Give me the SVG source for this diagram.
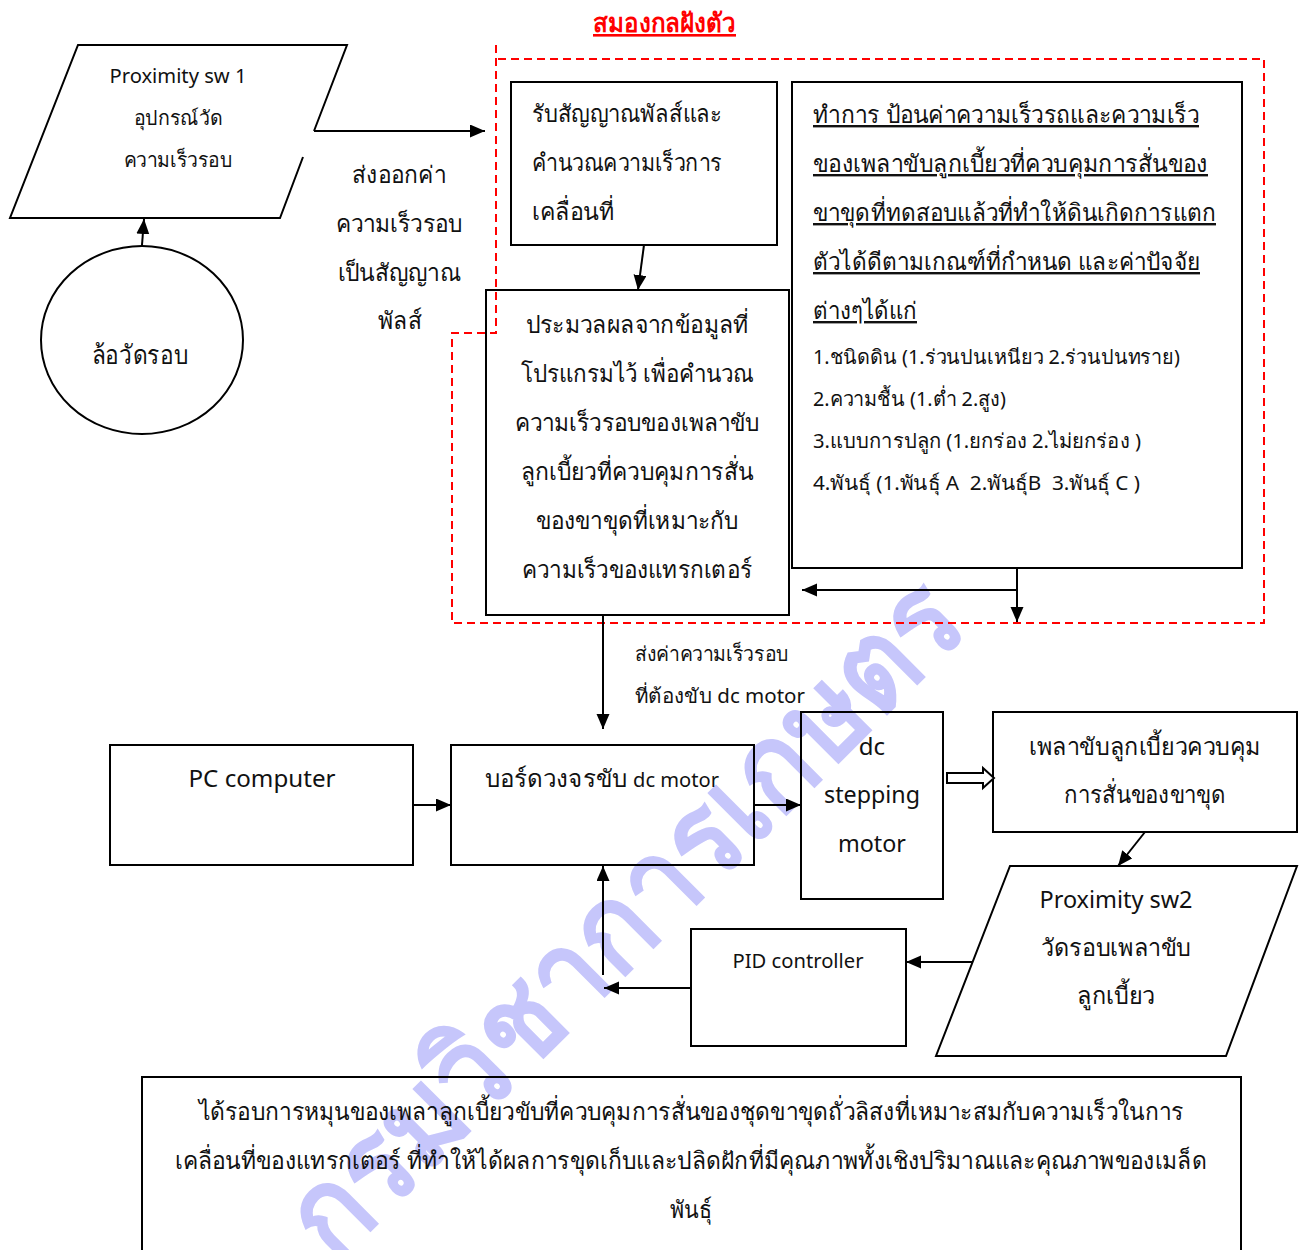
<svg xmlns="http://www.w3.org/2000/svg" width="1306" height="1250" viewBox="0 0 1306 1250">
<defs>
<style>
.t{font-family:'Noto Sans','Open Sans','DejaVu Sans',sans-serif;fill:#111;}
.s20{font-size:20px;}
.s24{font-size:24px;}
.box{fill:none;stroke:#000;stroke-width:2;}
.conn{fill:none;stroke:#000;stroke-width:2;}
.red{fill:none;stroke:#ff0000;stroke-width:2;stroke-dasharray:8 5;}
.ul{text-decoration:underline;}
</style>
<marker id="ah" markerUnits="userSpaceOnUse" markerWidth="16" markerHeight="14" refX="15" refY="6.5" orient="auto">
<path d="M0,0 L15,6.5 L0,13 Z" fill="#000"/>
</marker>
</defs>
<rect width="1306" height="1250" fill="#fff"/>
<g id="watermark">
<text x="335" y="1265" transform="rotate(-45 335 1265)" font-family="'Noto Sans','DejaVu Sans',sans-serif" font-size="122" font-weight="bold" fill="#c6c6fb" textLength="900" lengthAdjust="spacingAndGlyphs">กรมวิชาการเกษตร</text>
</g>
<g id="title">
<text class="t" x="593" y="32" font-size="26" font-weight="bold" style="fill:#ff0000" text-decoration="underline" textLength="143" lengthAdjust="spacingAndGlyphs">สมองกลฝังตัว</text>
</g>
<g id="embedded-boundary">
<path class="red" d="M496,45 L496,333 L452,333 L452,623 L1264,623 L1264,59 L496,59"/>
</g>
<g id="proximity1">
<path class="box" d="M314,131 L347,45 L78,45 L10,218 L280,218 L303,157"/>
<text class="t s20" x="178" y="83" text-anchor="middle" textLength="137" lengthAdjust="spacingAndGlyphs">Proximity sw 1</text>
<text class="t s20" x="178" y="125" text-anchor="middle" textLength="89" lengthAdjust="spacingAndGlyphs">อุปกรณ์วัด</text>
<text class="t s20" x="178" y="167" text-anchor="middle" textLength="109" lengthAdjust="spacingAndGlyphs">ความเร็วรอบ</text>
</g>
<g id="wheel">
<ellipse class="box" cx="142" cy="340" rx="101" ry="94"/>
<text class="t" x="140" y="364" font-size="26" text-anchor="middle" textLength="97" lengthAdjust="spacingAndGlyphs">ล้อวัดรอบ</text>
</g>
<g id="label-pulse">
<text class="t s24" x="399" y="183" text-anchor="middle" textLength="94" lengthAdjust="spacingAndGlyphs">ส่งออกค่า</text>
<text class="t s24" x="399" y="232" text-anchor="middle" textLength="127" lengthAdjust="spacingAndGlyphs">ความเร็วรอบ</text>
<text class="t s24" x="399" y="281" text-anchor="middle" textLength="123" lengthAdjust="spacingAndGlyphs">เป็นสัญญาณ</text>
<text class="t s24" x="400" y="329" text-anchor="middle" textLength="44" lengthAdjust="spacingAndGlyphs">พัลส์</text>
</g>
<g id="box-receive">
<rect class="box" x="511" y="82" width="266" height="163"/>
<text class="t s24" x="532" y="122" textLength="190" lengthAdjust="spacingAndGlyphs">รับสัญญาณพัลส์และ</text>
<text class="t s24" x="532" y="171" textLength="190" lengthAdjust="spacingAndGlyphs">คำนวณความเร็วการ</text>
<text class="t s24" x="532" y="220" textLength="82" lengthAdjust="spacingAndGlyphs">เคลื่อนที่</text>
</g>
<g id="box-input">
<rect class="box" x="792" y="82" width="450" height="486"/>
<text class="t s24 ul" x="813" y="123" textLength="386" lengthAdjust="spacingAndGlyphs">ทำการ ป้อนค่าความเร็วรถและความเร็ว</text>
<text class="t s24 ul" x="813" y="172" textLength="395" lengthAdjust="spacingAndGlyphs">ของเพลาขับลูกเบี้ยวที่ควบคุมการสั่นของ</text>
<text class="t s24 ul" x="813" y="221" textLength="403" lengthAdjust="spacingAndGlyphs">ขาขุดที่ทดสอบแล้วที่ทำให้ดินเกิดการแตก</text>
<text class="t s24 ul" x="813" y="270" textLength="387" lengthAdjust="spacingAndGlyphs">ตัวได้ดีตามเกณฑ์ที่กำหนด และค่าปัจจัย</text>
<text class="t s24 ul" x="813" y="319" textLength="104" lengthAdjust="spacingAndGlyphs">ต่างๆได้แก่</text>
<text class="t s20" x="813" y="364" textLength="367" lengthAdjust="spacingAndGlyphs">1.ชนิดดิน (1.ร่วนปนเหนียว 2.ร่วนปนทราย)</text>
<text class="t s20" x="813" y="406" textLength="193" lengthAdjust="spacingAndGlyphs">2.ความชื้น (1.ต่ำ 2.สูง)</text>
<text class="t s20" x="813" y="448" textLength="328" lengthAdjust="spacingAndGlyphs">3.แบบการปลูก (1.ยกร่อง 2.ไม่ยกร่อง )</text>
<text class="t s20" x="813" y="490" textLength="327" lengthAdjust="spacingAndGlyphs" xml:space="preserve">4.พันธุ์ (1.พันธุ์ A  2.พันธุ์B  3.พันธุ์ C )</text>
</g>
<g id="box-process">
<rect class="box" x="486" y="290" width="303" height="325"/>
<text class="t s24" x="637" y="333" text-anchor="middle" textLength="223" lengthAdjust="spacingAndGlyphs">ประมวลผลจากข้อมูลที่</text>
<text class="t s24" x="637" y="382" text-anchor="middle" textLength="233" lengthAdjust="spacingAndGlyphs">โปรแกรมไว้ เพื่อคำนวณ</text>
<text class="t s24" x="637" y="431" text-anchor="middle" textLength="245" lengthAdjust="spacingAndGlyphs">ความเร็วรอบของเพลาขับ</text>
<text class="t s24" x="637" y="480" text-anchor="middle" textLength="233" lengthAdjust="spacingAndGlyphs">ลูกเบี้ยวที่ควบคุมการสั่น</text>
<text class="t s24" x="637" y="529" text-anchor="middle" textLength="203" lengthAdjust="spacingAndGlyphs">ของขาขุดที่เหมาะกับ</text>
<text class="t s24" x="637" y="578" text-anchor="middle" textLength="230" lengthAdjust="spacingAndGlyphs">ความเร็วของแทรกเตอร์</text>
</g>
<g id="label-speed">
<text class="t s20" x="635" y="661" textLength="154" lengthAdjust="spacingAndGlyphs">ส่งค่าความเร็วรอบ</text>
<text class="t s20" x="635" y="703" textLength="170" lengthAdjust="spacingAndGlyphs">ที่ต้องขับ dc motor</text>
</g>
<g id="pc">
<rect class="box" x="110" y="745" width="303" height="120"/>
<text class="t" x="262" y="787" font-size="23" text-anchor="middle" textLength="147" lengthAdjust="spacingAndGlyphs">PC computer</text>
</g>
<g id="board">
<rect class="box" x="451" y="745" width="303" height="120"/>
<text class="t s24" x="485" y="787" textLength="234" lengthAdjust="spacingAndGlyphs">บอร์ดวงจรขับ <tspan font-size="20">dc motor</tspan></text>
</g>
<g id="stepper">
<rect class="box" x="801" y="712" width="142" height="187"/>
<text class="t s24" x="872" y="755" text-anchor="middle">dc</text>
<text class="t s24" x="872" y="803" text-anchor="middle" textLength="96" lengthAdjust="spacingAndGlyphs">stepping</text>
<text class="t s24" x="872" y="852" text-anchor="middle" textLength="68" lengthAdjust="spacingAndGlyphs">motor</text>
</g>
<g id="shaft">
<rect class="box" x="993" y="712" width="304" height="120"/>
<text class="t s24" x="1145" y="755" text-anchor="middle" textLength="232" lengthAdjust="spacingAndGlyphs">เพลาขับลูกเบี้ยวควบคุม</text>
<text class="t s24" x="1145" y="803" text-anchor="middle" textLength="162" lengthAdjust="spacingAndGlyphs">การสั่นของขาขุด</text>
</g>
<g id="proximity2">
<polygon class="box" points="1010,866 1297,866 1226,1056 936,1056"/>
<text class="t s24" x="1116" y="908" text-anchor="middle" textLength="153" lengthAdjust="spacingAndGlyphs">Proximity sw2</text>
<text class="t s24" x="1116" y="956" text-anchor="middle" textLength="150" lengthAdjust="spacingAndGlyphs">วัดรอบเพลาขับ</text>
<text class="t s24" x="1116" y="1004" text-anchor="middle" textLength="78" lengthAdjust="spacingAndGlyphs">ลูกเบี้ยว</text>
</g>
<g id="pid">
<rect class="box" x="691" y="929" width="215" height="117"/>
<text class="t s20" x="798" y="968" text-anchor="middle" textLength="131" lengthAdjust="spacingAndGlyphs">PID controller</text>
</g>
<g id="result">
<path class="box" d="M142,1252 L142,1077 L1241,1077 L1241,1252"/>
<text class="t s24" x="691" y="1120" text-anchor="middle" textLength="985" lengthAdjust="spacingAndGlyphs">ได้รอบการหมุนของเพลาลูกเบี้ยวขับที่ควบคุมการสั่นของชุดขาขุดถั่วลิสงที่เหมาะสมกับความเร็วในการ</text>
<text class="t s24" x="691" y="1169" text-anchor="middle" textLength="1032" lengthAdjust="spacingAndGlyphs">เคลื่อนที่ของแทรกเตอร์ ที่ทำให้ได้ผลการขุดเก็บและปลิดฝักที่มีคุณภาพทั้งเชิงปริมาณและคุณภาพของเมล็ด</text>
<text class="t s24" x="691" y="1218" text-anchor="middle" textLength="42" lengthAdjust="spacingAndGlyphs">พันธุ์</text>
</g>
<g id="connectors">
<line class="conn" x1="142" y1="245" x2="144" y2="219" marker-end="url(#ah)"/>
<line class="conn" x1="314" y1="131" x2="485" y2="131" marker-end="url(#ah)"/>
<line class="conn" x1="644" y1="245" x2="638" y2="290" marker-end="url(#ah)"/>
<line class="conn" x1="1017" y1="568" x2="1017" y2="622" marker-end="url(#ah)"/>
<line class="conn" x1="1017" y1="590" x2="802" y2="590" marker-end="url(#ah)"/>
<line class="conn" x1="603" y1="615" x2="603" y2="729" marker-end="url(#ah)"/>
<line class="conn" x1="413" y1="805" x2="451" y2="805" marker-end="url(#ah)"/>
<line class="conn" x1="754" y1="805" x2="801" y2="805" marker-end="url(#ah)"/>
<path class="conn" d="M947,773 L983,773 L983,768 L994,778 L983,788 L983,783 L947,783 Z" style="fill:#fff"/>
<line class="conn" x1="1145" y1="832" x2="1118" y2="866" marker-end="url(#ah)"/>
<line class="conn" x1="972" y1="962" x2="906" y2="962" marker-end="url(#ah)"/>
<line class="conn" x1="691" y1="988" x2="604" y2="988" marker-end="url(#ah)"/>
<line class="conn" x1="603" y1="975" x2="603" y2="866" marker-end="url(#ah)"/>
</g>
</svg>
